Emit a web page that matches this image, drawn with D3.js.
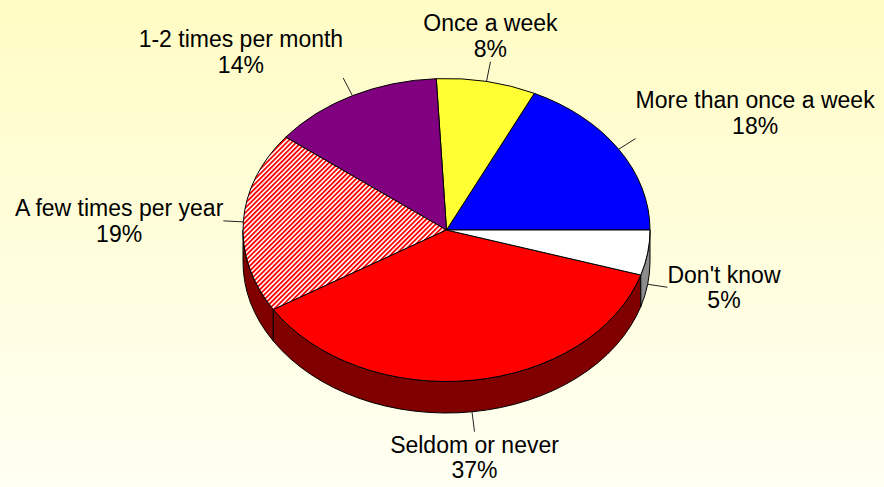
<!DOCTYPE html>
<html>
<head>
<meta charset="utf-8">
<script src="https://cdn.jsdelivr.net/npm/d3@7"></script>
<style>
html,body{margin:0;padding:0;background:#fffff2;}
svg{display:block;}
text{font-family:"Liberation Sans",Arial,sans-serif;font-size:23px;fill:#000;}
</style>
</head>
<body>
<svg id="chart" width="884" height="487"></svg>
<script>
const categories = ["More than once a week", "Once a week", "1-2 times per month", "A few times per year", "Seldom or never", "Don't know"];
const values = [17.9, 7.9, 13.7, 19.3, 36.4, 4.8];
const percentLabels = ["18%", "8%", "14%", "19%", "37%", "5%"];

const W = 884, H = 487;
const cx = 446.5, cy = 230, rx = 203.5, ry = 151.5, depth = 31.5;

const svg = d3.select("#chart");
const defs = svg.append("defs");

const grad = defs.append("linearGradient").attr("id", "bg").attr("x1", 0).attr("y1", 0).attr("x2", 0).attr("y2", 1);
grad.append("stop").attr("offset", "0%").attr("stop-color", "#fffcc4");
grad.append("stop").attr("offset", "100%").attr("stop-color", "#fffff3");

const pat = defs.append("pattern").attr("id", "hatch").attr("patternUnits", "userSpaceOnUse")
  .attr("width", 3.4).attr("height", 3.4).attr("patternTransform", "rotate(45)");
pat.append("rect").attr("width", 3.4).attr("height", 3.4).attr("fill", "#ffffff");
pat.append("rect").attr("width", 1.8).attr("height", 3.4).attr("fill", "#ff0000");

svg.append("rect").attr("width", W).attr("height", H).attr("fill", "url(#bg)");

const topColor = d3.scaleOrdinal().domain(categories)
  .range(["#0000ff", "#ffff33", "#800080", "url(#hatch)", "#ff0000", "#ffffff"]);
const sideColor = d3.scaleOrdinal().domain(categories)
  .range(["#00007f", "#7f7f19", "#400040", "#800000", "#800000", "#8c8c8c"]);

const pie = d3.pie().sort(null).value(d => d.v).startAngle(0).endAngle(2 * Math.PI);
const arcs = pie(categories.map((c, i) => ({ c, v: values[i], p: percentLabels[i] })));

const pt = (t, dz) => [cx + rx * Math.cos(t), cy - ry * Math.sin(t) + (dz || 0)];

// sides (visible front half: angles pi..2pi)
const sides = svg.append("g");
arcs.forEach(a => {
  const s = Math.max(a.startAngle, Math.PI), e = Math.min(a.endAngle, 2 * Math.PI);
  if (e <= s) return;
  const p0 = pt(s), p1 = pt(e), b1 = pt(e, depth), b0 = pt(s, depth);
  const d = `M${p0}A${rx},${ry} 0 0 0 ${p1}L${b1}A${rx},${ry} 0 0 1 ${b0}Z`;
  sides.append("path").attr("d", d).attr("fill", sideColor(a.data.c))
    .attr("stroke", "#000").attr("stroke-width", 1).attr("stroke-linejoin", "round");
});

// top faces
const tops = svg.append("g");
arcs.forEach(a => {
  const p0 = pt(a.startAngle), p1 = pt(a.endAngle);
  const large = (a.endAngle - a.startAngle) > Math.PI ? 1 : 0;
  const d = `M${cx},${cy}L${p0}A${rx},${ry} 0 ${large} 0 ${p1}Z`;
  tops.append("path").attr("d", d).attr("fill", topColor(a.data.c))
    .attr("stroke", "#000").attr("stroke-width", 1).attr("stroke-linejoin", "round");
});

// labels and leader lines
const lab = svg.append("g");
const lineGap = 25.5, ascent = 21, descent = 5;
arcs.forEach(a => {
  const m = (a.startAngle + a.endAngle) / 2;
  const c = Math.cos(m), s = Math.sin(m);
  const edge = pt(m, s < 0 ? depth : 0);
  const P = [edge[0] + 20 * c, edge[1] - 20 * s];
  lab.append("line").attr("x1", edge[0]).attr("y1", edge[1]).attr("x2", P[0]).attr("y2", P[1])
    .attr("stroke", "#222").attr("stroke-width", 1);
  const g = lab.append("g");
  const t1 = g.append("text").attr("text-anchor", "middle").text(a.data.c);
  const t2 = g.append("text").attr("text-anchor", "middle").text(a.data.p);
  const w = Math.max(t1.node().getComputedTextLength(), t2.node().getComputedTextLength());
  const h = ascent + lineGap + descent;
  let bx, by;
  if (c > 0.3) bx = P[0] + w / 2; else if (c < -0.3) bx = P[0] - w / 2; else bx = P[0];
  if (s > 0.3) by = P[1] - h; else if (s < -0.3) by = P[1]; else by = P[1] - h / 2;
  t1.attr("x", bx).attr("y", by + ascent);
  t2.attr("x", bx).attr("y", by + ascent + lineGap);
});
</script>
</body>
</html>
